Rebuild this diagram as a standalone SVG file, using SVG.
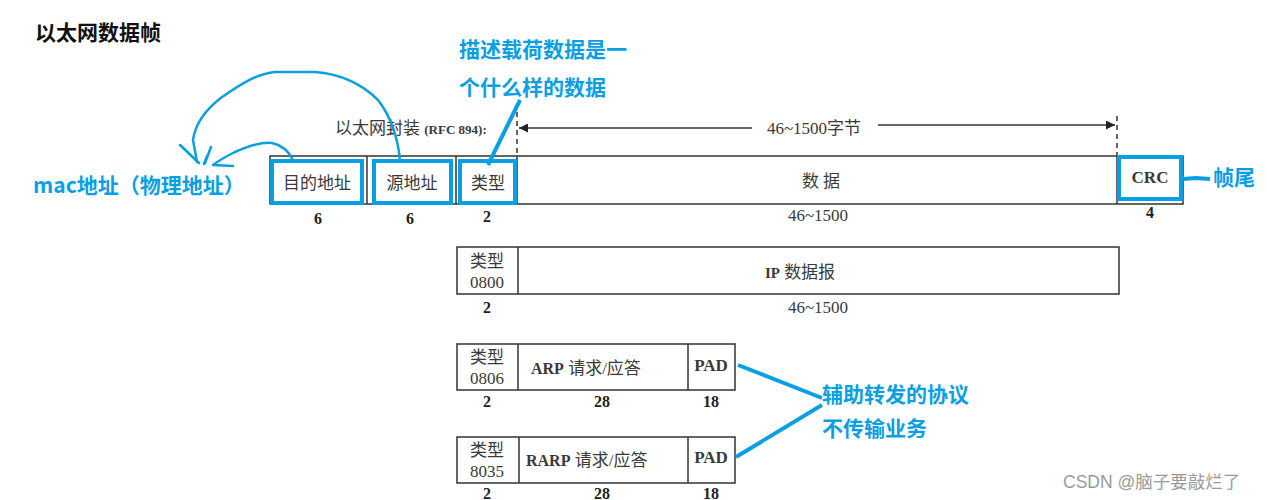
<svg xmlns="http://www.w3.org/2000/svg" width="1267" height="500" viewBox="0 0 1267 500">
<style>
.scan{font-family:"Liberation Serif","Noto Sans CJK SC",serif;fill:#3a3a3a;font-size:17px}
.num{font-family:"Liberation Serif",serif;font-weight:bold;fill:#222;font-size:16px}
.bold{font-weight:bold}
.blue{font-family:"Noto Sans CJK SC","Noto Sans",sans-serif;font-weight:bold;fill:#0a9fe3;font-size:21px}
.frame{fill:#fff;stroke:#333;stroke-width:1.5}
.sep{stroke:#333;stroke-width:1.5}
.hl{fill:none;stroke:#0a9fe3;stroke-width:4}
.pen{fill:none;stroke:#0a9fe3;stroke-width:2.5;stroke-linecap:round;stroke-linejoin:round}
.pointer{fill:none;stroke:#0a9fe3;stroke-width:4}
.dash{stroke:#333;stroke-width:1.5;stroke-dasharray:5,4}
.dim{stroke:#333;stroke-width:1.5}
</style>
<defs>
<marker id="arr" viewBox="0 0 10 10" refX="10" refY="5" markerWidth="13" markerHeight="9" markerUnits="userSpaceOnUse" orient="auto"><path d="M0,0 L10,5 L0,10 z" fill="#222"/></marker>
</defs>
<rect width="1267" height="500" fill="#fff"/>

<text x="35" y="40" font-family="Noto Sans CJK SC,sans-serif" font-weight="bold" font-size="21" fill="#111">以太网数据帧</text>

<g id="caption">
<text x="335" y="134" class="scan">以太网封装 <tspan class="bold" font-size="13">(RFC 894):</tspan></text>
</g>

<g id="dimension">
<line x1="517" y1="112" x2="517" y2="156" class="dash"/>
<line x1="1117" y1="116" x2="1117" y2="156" class="dash"/>
<line x1="752" y1="128" x2="519" y2="128" class="dim" marker-end="url(#arr)"/>
<text x="814" y="134" class="scan" text-anchor="middle">46~1500字节</text>
<line x1="878" y1="125" x2="1115" y2="125" class="dim" marker-end="url(#arr)"/>
</g>

<g id="frame-row">
<rect x="270" y="156" width="913" height="48" class="frame"/>
<line x1="367" y1="156" x2="367" y2="204" class="sep"/>
<line x1="456" y1="156" x2="456" y2="204" class="sep"/>
<line x1="517" y1="156" x2="517" y2="204" class="sep"/>
<line x1="1117" y1="156" x2="1117" y2="204" class="sep"/>
<text x="317" y="189" class="scan" text-anchor="middle">目的地址</text>
<text x="412" y="189" class="scan" text-anchor="middle">源地址</text>
<text x="488" y="189" class="scan" text-anchor="middle">类型</text>
<text x="821" y="187" class="scan" text-anchor="middle">数 据</text>
<text x="1150" y="183" class="scan bold" font-size="15" text-anchor="middle">CRC</text>
<text x="318" y="224" class="num" text-anchor="middle">6</text>
<text x="410" y="224" class="num" text-anchor="middle">6</text>
<text x="487" y="222" class="num" text-anchor="middle">2</text>
<text x="818" y="221" class="scan" text-anchor="middle">46~1500</text>
<text x="1150" y="218" class="num" text-anchor="middle">4</text>
</g>

<g id="ip-row">
<rect x="457" y="247" width="662" height="47" class="frame"/>
<line x1="518" y1="247" x2="518" y2="294" class="sep"/>
<text x="487" y="267" class="scan" font-size="15" text-anchor="middle">类型</text>
<text x="487" y="288" class="scan" font-size="15" text-anchor="middle">0800</text>
<text x="800" y="278" class="scan" text-anchor="middle"><tspan class="bold" font-size="15">IP</tspan> 数据报</text>
<text x="487" y="313" class="num" text-anchor="middle">2</text>
<text x="818" y="313" class="scan" text-anchor="middle">46~1500</text>
</g>

<g id="arp-row">
<rect x="457" y="344" width="278" height="46" class="frame"/>
<line x1="518" y1="344" x2="518" y2="390" class="sep"/>
<line x1="688" y1="344" x2="688" y2="390" class="sep"/>
<text x="487" y="363" class="scan" font-size="15" text-anchor="middle">类型</text>
<text x="487" y="384" class="scan" font-size="15" text-anchor="middle">0806</text>
<text x="531" y="374" class="scan"><tspan class="bold" font-size="16">ARP</tspan> 请求/应答</text>
<text x="711" y="371" class="scan bold" font-size="16" text-anchor="middle">PAD</text>
<text x="487" y="407" class="num" text-anchor="middle">2</text>
<text x="602" y="407" class="num" text-anchor="middle">28</text>
<text x="711" y="407" class="num" text-anchor="middle">18</text>
</g>

<g id="rarp-row">
<rect x="457" y="437" width="278" height="46" class="frame"/>
<line x1="519" y1="437" x2="519" y2="483" class="sep"/>
<line x1="688" y1="437" x2="688" y2="483" class="sep"/>
<text x="487" y="456" class="scan" font-size="15" text-anchor="middle">类型</text>
<text x="487" y="477" class="scan" font-size="15" text-anchor="middle">8035</text>
<text x="526" y="466" class="scan"><tspan class="bold" font-size="16">RARP</tspan> 请求/应答</text>
<text x="711" y="463" class="scan bold" font-size="16" text-anchor="middle">PAD</text>
<text x="487" y="499" class="num" text-anchor="middle">2</text>
<text x="602" y="499" class="num" text-anchor="middle">28</text>
<text x="711" y="499" class="num" text-anchor="middle">18</text>
</g>

<g id="highlights">
<rect x="272" y="161" width="90" height="42" class="hl"/>
<rect x="374" y="161" width="77" height="42" class="hl"/>
<rect x="460" y="161" width="55" height="42" class="hl"/>
<rect x="1119" y="157" width="62" height="42" class="hl"/>
</g>

<g id="annotations">
<text x="33" y="193" class="blue">mac地址（物理地址）</text>
<text x="459" y="57" class="blue">描述载荷数据是一</text>
<text x="459" y="95" class="blue">个什么样的数据</text>
<text x="1213" y="185" class="blue">帧尾</text>
<text x="822" y="402" class="blue">辅助转发的协议</text>
<text x="822" y="436" class="blue">不传输业务</text>
</g>

<g id="connectors">
<path class="pen" d="M400,160 C398,140 392,118 378,100 C362,84 340,74 315,72 L275,72 C255,74 238,86 222,97 C205,110 195,125 193,140 L197,162"/>
<path class="pen" d="M180,145 L199,163 M211,147 L205,163"/>
<path class="pen" d="M293,160 C288,150 282,145 272,143 C260,142 248,146 235,152 C225,157 218,161 213,165 L233,166 M207,156 L204,164"/>
<line x1="488" y1="165" x2="520" y2="100" class="pointer"/>
<path d="M1183,179 L1196,178 L1210,179" class="pointer"/>
<line x1="738" y1="365" x2="822" y2="398" class="pointer"/>
<line x1="822" y1="405" x2="736" y2="457" class="pointer"/>
</g>

<text x="1063" y="488" font-family="Liberation Sans,Noto Sans CJK SC,sans-serif" font-size="17.5" fill="#9a9a9a">CSDN @脑子要敲烂了</text>
</svg>
